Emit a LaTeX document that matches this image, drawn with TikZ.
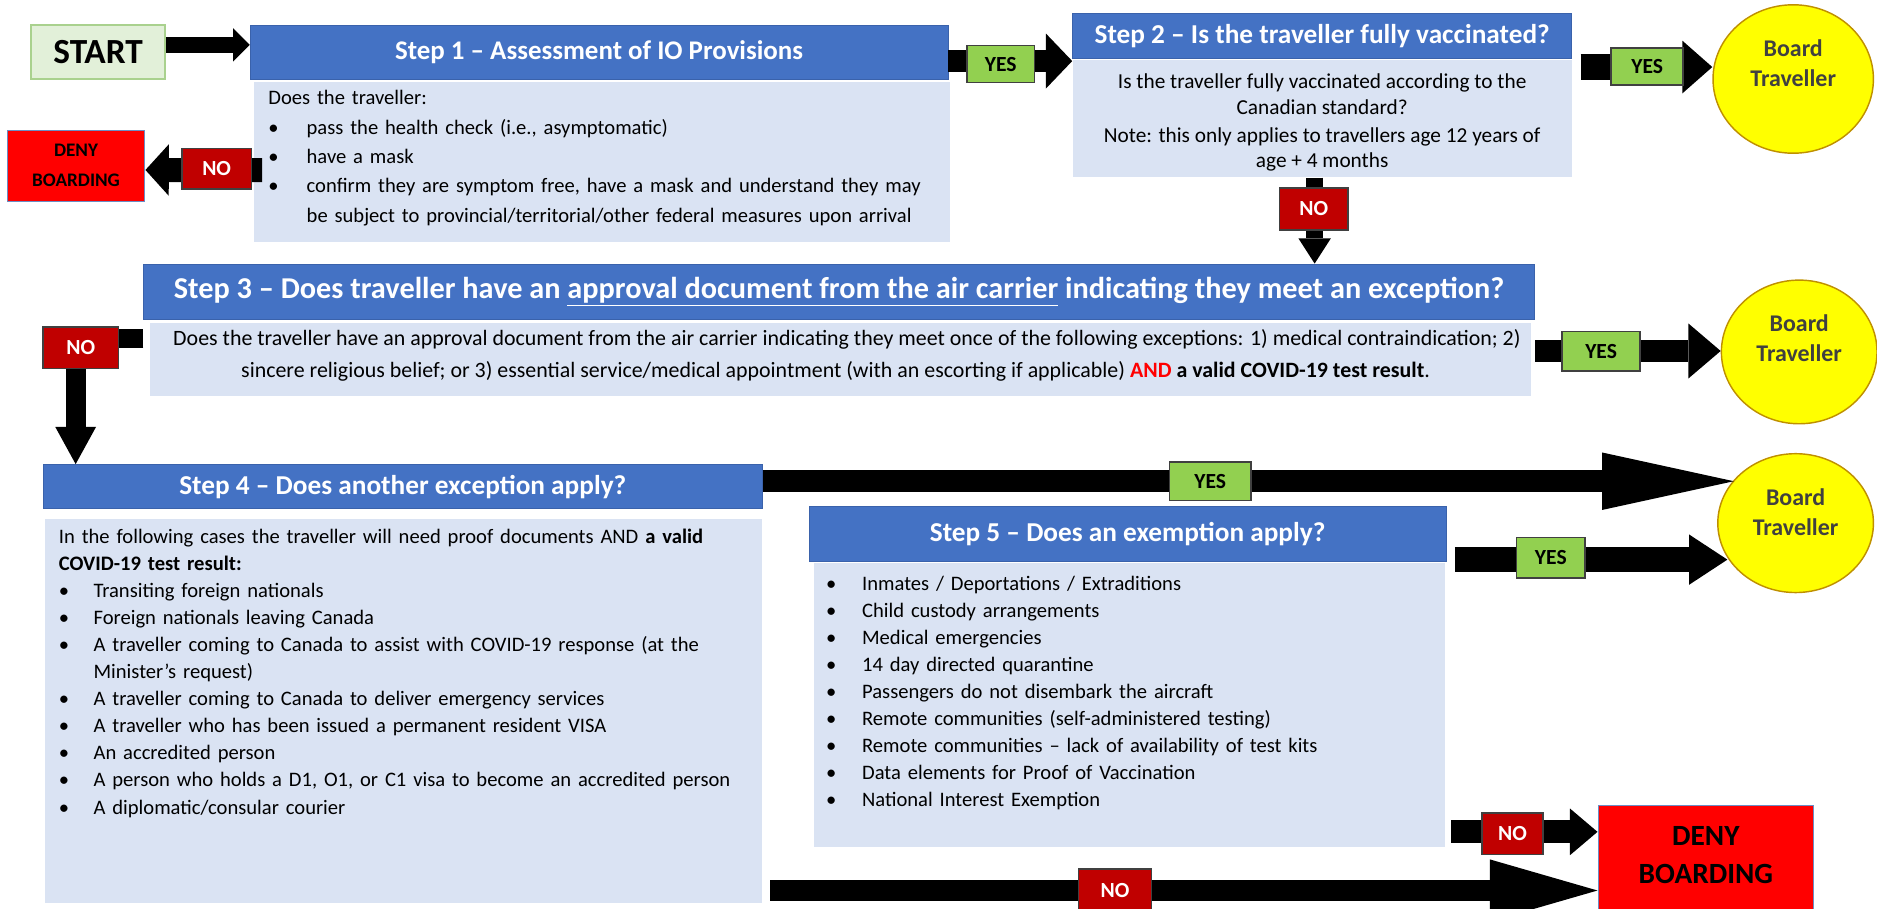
\documentclass[tikz,border=0pt]{standalone}
\usepackage{fontspec}
\setmainfont{Carlito}
\usetikzlibrary{arrows.meta,shapes.geometric}
\definecolor{hdr}{HTML}{4472C4}
\definecolor{hdrline}{HTML}{3A62AB}
\definecolor{bdy}{HTML}{DAE3F3}
\definecolor{stfill}{HTML}{E2F0D9}
\definecolor{stdraw}{HTML}{A9D18E}
\definecolor{yesfill}{HTML}{92D050}
\definecolor{nofill}{HTML}{C00000}
\definecolor{denyfill}{HTML}{FF0000}
\definecolor{denydraw}{HTML}{6B8DC4}
\definecolor{boardfill}{HTML}{FFFF00}
\definecolor{boarddraw}{HTML}{BF9000}
\definecolor{boardtxt}{HTML}{404040}
\definecolor{andred}{HTML}{FF0000}
\newcommand\blf[1]{\hangindent=#1\hangafter=1\noindent\makebox[#1][l]{\textbullet}}
\newcommand\bl[1]{\par\blf{#1}}
\tikzset{
  hdrbox/.style={fill=hdr, draw=hdrline, line width=0.6pt, text=white, inner sep=0pt,
    font=\fontsize{22.8}{27}\selectfont\bfseries},
  bodybox/.style={fill=bdy, draw=none, inner sep=0pt},
  bodytext/.style={inner sep=0pt, align=left, text=black, font=\fontsize{17.2}{24.5}\selectfont},
  startbox/.style={fill=stfill, draw=stdraw, line width=1.5pt, inner sep=0pt, text=black,
    font=\fontsize{29.5}{32}\selectfont\bfseries},
  yeslbl/.style={fill=yesfill, draw=black!75, line width=1.3pt, inner sep=0pt, text=black,
    font=\fontsize{18}{20}\selectfont\bfseries},
  nolbl/.style={fill=nofill, draw=black!75, line width=1.3pt, inner sep=0pt, text=white,
    font=\fontsize{18}{20}\selectfont\bfseries},
  denybox/.style={fill=denyfill, draw=denydraw, line width=1pt, align=center, inner sep=0pt, text=black},
  boardnode/.style={ellipse, fill=boardfill, draw=boarddraw, line width=1.2pt, inner sep=0pt},
  boardlbl/.style={align=center, text=boardtxt, inner sep=0pt, font=\fontsize{20}{25}\selectfont\bfseries},
  bar/.style n args={3}{draw=black, line width=#1, line cap=butt, line join=miter,
    -{Triangle[length=#3,width=#2,line width=0pt]}},
}
\begin{document}
\begin{tikzpicture}[x=1pt,y=-1pt]
\useasboundingbox (0,0) rectangle (1568,759);

% ---------- boxes ----------
\node[startbox, minimum width=112pt, minimum height=45pt] (start) at (82,43.5) {START};

\node[hdrbox, font=\fontsize{22.5}{27}\selectfont\bfseries, minimum width=583pt, minimum height=45pt] (s1h) at (500.5,43.5) {Step 1 – Assessment of IO Provisions};
\node[bodybox, minimum width=581pt, minimum height=134pt, anchor=north west] (s1b) at (212,68) {};
\node[bodytext, text width=700pt, anchor=base west] (s1t) at (224,87.5)
  {Does the traveller:\bl{32pt}pass the health check (i.e., asymptomatic)\bl{32pt}have a mask\bl{32pt}confirm they are symptom free, have a mask and understand they may\newline be subject to provincial/territorial/other federal measures upon arrival\par};

\node[denybox, minimum width=115pt, minimum height=59pt, font=\fontsize{16}{25}\selectfont\bfseries] (deny1) at (63.5,138.5) {DENY\\BOARDING};

\node[hdrbox, minimum width=417pt, minimum height=38pt] (s2h) at (1104.5,30) {Step 2 – Is the traveller fully vaccinated?};
\node[bodybox, minimum width=417pt, minimum height=98pt, anchor=north west] (s2b) at (896,50) {};
\node[bodytext, align=center, anchor=base, font=\fontsize{17.8}{21.3}\selectfont] (s2t) at (1104.5,140)
  {Is the traveller fully vaccinated according to the\\Canadian standard?\\[2pt]Note: this only applies to travellers age 12 years of\\age + 4 months};

\node[boardnode, minimum width=134pt, minimum height=124pt,
  label={[boardlbl, yshift=13pt]center:{Board\\Traveller}}] (b1) at (1498,66) {};

\node[hdrbox, font=\fontsize{25.3}{30}\selectfont\bfseries, minimum width=1162pt, minimum height=46pt] (s3h) at (701,243.5)
  {Step 3 – Does traveller have an \underline{approval document from the air carrier} indicating they meet an exception?};
\node[bodybox, minimum width=1154pt, minimum height=61pt, anchor=north west] (s3b) at (125,270) {};
\node[bodytext, align=center, anchor=base, font=\fontsize{18.3}{26}\selectfont] (s3t) at (703,315)
  {\hspace*{9pt}Does the traveller have an approval document from the air carrier indicating they meet once of the following exceptions: 1) medical contraindication; 2)\\sincere religious belief; or 3) essential service/medical appointment (with an escorting if applicable) \textcolor{andred}{\textbf{AND}} \textbf{a valid COVID-19 test result}.\hspace*{10pt}};

\node[boardnode, minimum width=130pt, minimum height=120pt,
  label={[boardlbl, yshift=11.5pt]center:{Board\\Traveller}}] (b3) at (1503,294) {};

\node[hdrbox, minimum width=601pt, minimum height=37pt] (s4h) at (336.5,406.5) {Step 4 – Does another exception apply?};
\node[bodybox, minimum width=599pt, minimum height=321pt, anchor=north west] (s4b) at (37.5,433) {};
\node[bodytext, text width=700pt, anchor=base west, font=\fontsize{17.2}{22.6}\selectfont] (s4t) at (49,454)
  {In the following cases the traveller will need proof documents AND \textbf{a valid}\newline\textbf{COVID-19 test result:}\bl{29pt}Transiting foreign nationals\bl{29pt}Foreign nationals leaving Canada\bl{29pt}A traveller coming to Canada to assist with COVID-19 response (at the\newline Minister’s request)\bl{29pt}A traveller coming to Canada to deliver emergency services\bl{29pt}A traveller who has been issued a permanent resident VISA\bl{29pt}An accredited person\bl{29pt}A person who holds a D1, O1, or C1 visa to become an accredited person\bl{29pt}A diplomatic/consular courier\par};

\node[hdrbox, minimum width=532pt, minimum height=46pt] (s5h) at (942,446) {Step 5 – Does an exemption apply?};
\node[bodybox, minimum width=527pt, minimum height=237pt, anchor=north west] (s5b) at (680,470) {};
\node[bodytext, text width=600pt, anchor=base west, font=\fontsize{17.2}{22.6}\selectfont] (s5t) at (690,493)
  {\blf{30pt}Inmates / Deportations / Extraditions\bl{30pt}Child custody arrangements\bl{30pt}Medical emergencies\bl{30pt}14 day directed quarantine\bl{30pt}Passengers do not disembark the aircraft\bl{30pt}Remote communities (self-administered testing)\bl{30pt}Remote communities – lack of availability of test kits\bl{30pt}Data elements for Proof of Vaccination\bl{30pt}National Interest Exemption\par};

\node[boardnode, minimum width=130pt, minimum height=116pt,
  label={[boardlbl, yshift=9.5pt]center:{Board\\Traveller}}] (b2) at (1500,437) {};

\node[denybox, minimum width=180pt, minimum height=88pt, font=\fontsize{24.5}{32}\selectfont\bfseries,
  label={[align=center, inner sep=0pt, font=\fontsize{24.5}{32}\selectfont\bfseries, yshift=2.5pt]center:{DENY\\BOARDING}}] (deny2) at (1425,717) {};

% ---------- connectors ----------
\draw[bar={13pt}{28pt}{14pt}] ([yshift=6pt]start.east) -- ([yshift=6pt]s1h.west);

\draw[bar={20pt}{43pt}{19.5pt}] ([xshift=7pt,yshift=-7pt]s1b.west) -- ([yshift=-3.5pt]deny1.east);

\coordinate (a3) at ([yshift=-7.5pt]s1h.east);
\draw[bar={18pt}{46pt}{22pt}] (a3) -- (a3 -| s2h.west);

\coordinate (a4) at ([xshift=7pt,yshift=-26pt]s2h.east);
\draw[bar={21pt}{44pt}{25pt}] (a4) -- (a4 -| b1.west);

\coordinate (a5) at ([xshift=-6.5pt]s2b.south);
\draw[bar={14pt}{27pt}{21pt}] (a5) -- (a5 |- s3h.north);

\coordinate (a6) at ([xshift=3pt,yshift=7.5pt]s3b.east);
\draw[bar={18pt}{46pt}{27pt}] (a6) -- (a6 -| b3.west);

\coordinate (a7) at ([yshift=18pt]s3b.west);
\coordinate (a7b) at ([xshift=27.5pt]s4h.north west);
\draw[bar={16.5pt}{34pt}{31pt}] (a7 -| s3h.west) -| (a7b);

\coordinate (a8) at ([yshift=4.5pt]s4h.east);
\draw[bar={18pt}{48pt}{110pt}] (a8) -- (a8 -| b2.145);

\coordinate (a9) at ([xshift=7pt,yshift=-21.5pt]s5h.east);
\draw[bar={21pt}{42pt}{32pt}] (a9) -- (a9 -| b2.207);

\coordinate (a10) at ([xshift=5pt,yshift=12.5pt]s5b.south east);
\draw[bar={19pt}{39pt}{23pt}] (a10) -- (a10 -| deny2.west);

\coordinate (a11) at ([xshift=6.5pt,yshift=10.5pt]s4b.south east);
\draw[bar={17pt}{52pt}{90pt}] (a11) -- (a11 -| deny2.west);

% ---------- connector labels ----------
\node[yeslbl, minimum width=56pt, minimum height=31pt] (y1) at (836,53.5) {YES};
\node[yeslbl, minimum width=60pt, minimum height=31pt] (y2) at (1376,55.5) {YES};
\node[nolbl, minimum width=57pt, minimum height=35pt] (n2) at (1097.5,174.5) {NO};
\node[nolbl, minimum width=58pt, minimum height=34pt] (n1) at (181,141) {NO};
\node[yeslbl, minimum width=65pt, minimum height=33pt] (y3) at (1337.5,293.5) {YES};
\node[nolbl, minimum width=63pt, minimum height=35pt] (n3) at (67.5,290.5) {NO};
\node[yeslbl, minimum width=68pt, minimum height=32pt] (y4) at (1011,402) {YES};
\node[yeslbl, minimum width=57pt, minimum height=34pt] (y5) at (1295.5,466) {YES};
\node[nolbl, minimum width=51pt, minimum height=35pt] (n5) at (1263.5,696.5) {NO};
\node[nolbl, minimum width=61pt, minimum height=36pt] (n4) at (931.5,744) {NO};
\end{tikzpicture}
\end{document}
